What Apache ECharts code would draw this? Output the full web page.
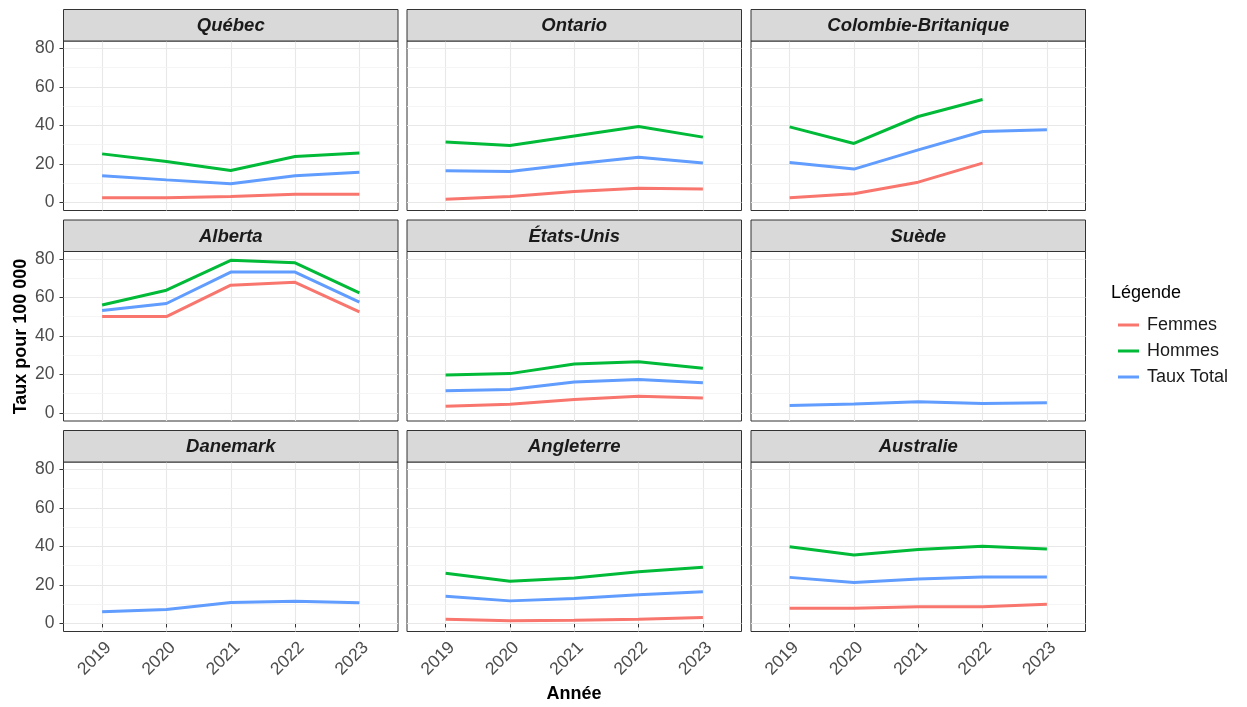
<!DOCTYPE html>
<html>
<head>
<meta charset="utf-8">
<script src="https://cdn.jsdelivr.net/npm/echarts@6/dist/echarts.min.js"></script>
<style>
html, body { margin: 0; padding: 0; background: #fff; }
#chart { width: 1247px; height: 707px; }
</style>
</head>
<body>
<div id="chart"></div>
<script>
var years = [2019, 2020, 2021, 2022, 2023];
var yTicks = [0, 20, 40, 60, 80];
var yMinorTicks = [10, 30, 50, 70];
var panels = ['Québec', 'Ontario', 'Colombie-Britanique', 'Alberta', 'États-Unis', 'Suède', 'Danemark', 'Angleterre', 'Australie'];
var seriesNames = ['Femmes', 'Hommes', 'Taux Total'];

// une ligne par panneau, null = pas de données
var femmes = [
	[2.4, 2.4, 3.1, 4.3, 4.3],
	[1.7, 3.1, 5.7, 7.3, 6.9],
	[2.4, 4.5, 10.5, 20.4, null],
	[50.0, 50.0, 66.3, 67.8, 52.5],
	[3.4, 4.5, 7.0, 8.6, 7.7],
	null,
	null,
	[2.2, 1.4, 1.7, 2.1, 3.1],
	[7.9, 7.9, 8.6, 8.6, 10.0]
];
var hommes = [
	[25.2, 21.2, 16.6, 23.8, 25.6],
	[31.3, 29.5, 34.5, 39.4, 33.9],
	[39.2, 30.6, 44.6, 53.4, null],
	[56.0, 63.7, 79.2, 77.9, 62.3],
	[19.7, 20.4, 25.4, 26.6, 23.2],
	null,
	null,
	[26.0, 21.9, 23.6, 26.8, 29.1],
	[39.8, 35.5, 38.4, 40.1, 38.6]
];
var total = [
	[13.8, 11.7, 9.7, 13.8, 15.7],
	[16.4, 16.1, 20.0, 23.5, 20.4],
	[20.7, 17.3, 27.3, 36.8, 37.7],
	[53.2, 56.8, 73.1, 73.1, 57.5],
	[11.5, 12.2, 16.0, 17.3, 15.6],
	[3.8, 4.6, 5.8, 4.9, 5.3],
	[6.0, 7.2, 10.8, 11.5, 10.7],
	[14.1, 11.7, 12.9, 14.9, 16.5],
	[23.9, 21.3, 23.1, 24.1, 24.1]
];

var colors = ['#F8766D', '#00BA38', '#619CFF'];
var font = "'Liberation Sans', Arial, sans-serif";

var colLeft = [63.5, 407, 751],
	rowTop = [9.5, 220, 430.5],
	panelW = 334.5,
	stripH = 31.5,
	plotH = 169.5;

var grids = [], xAxes = [], yAxes = [], series = [], graphics = [];

panels.forEach(function(name, p) {
	var row = Math.floor(p / 3),
		col = p % 3,
		left = colLeft[col],
		top = rowTop[row] + stripH,
		isBottom = row == 2,
		isLeft = col == 0;

	grids.push({
		left: left,
		top: top,
		width: panelW,
		height: plotH,
		show: true,
		backgroundColor: '#fff',
		borderColor: '#333',
		borderWidth: 1,
		z: 0
	});

	xAxes.push({
		type: 'value',
		gridIndex: p,
		min: 2018.4,
		max: 2023.6,
		axisLine: { show: false },
		axisTick: {
			show: isBottom,
			customValues: years,
			length: 4,
			lineStyle: { color: '#333' }
		},
		axisLabel: {
			show: isBottom,
			customValues: years,
			rotate: 45,
			align: 'right',
			verticalAlign: 'top',
			margin: 7,
			fontSize: 17.5,
			color: '#4D4D4D',
			fontFamily: font,
			formatter: function(v) { return String(v); }
		},
		splitLine: { show: true, lineStyle: { color: '#e8e8e8', width: 1.1 } }
	});

	// axe principal
	yAxes.push({
		type: 'value',
		gridIndex: p,
		min: -4.2,
		max: 83.8,
		position: 'left',
		axisLine: { show: false },
		axisTick: {
			show: isLeft,
			customValues: yTicks,
			length: 4,
			lineStyle: { color: '#333' }
		},
		axisLabel: {
			show: isLeft,
			customValues: yTicks,
			margin: 9,
			fontSize: 17.5,
			color: '#4D4D4D',
			fontFamily: font
		},
		splitLine: { show: true, lineStyle: { color: '#e8e8e8', width: 1.1 } },
		z: 2
	});
	// lignes mineures
	yAxes.push({
		type: 'value',
		gridIndex: p,
		min: -4.2,
		max: 83.8,
		position: 'left',
		axisLine: { show: false },
		axisTick: { show: false, customValues: yMinorTicks },
		axisLabel: { show: false, customValues: yMinorTicks },
		splitLine: { show: true, lineStyle: { color: '#f3f3f3', width: 0.8 } },
		z: 1
	});

	[femmes, hommes, total].forEach(function(src, s) {
		if(!src[p]) return;
		var data = [];
		years.forEach(function(y, i) {
			if(src[p][i] != null) data.push([y, src[p][i]]);
		});
		series.push({
			type: 'line',
			name: seriesNames[s],
			xAxisIndex: p,
			yAxisIndex: p * 2,
			data: data,
			symbol: 'none',
			showSymbol: false,
			color: colors[s],
			lineStyle: { width: 3, color: colors[s] },
			animation: false,
			silent: true,
			z: 5
		});
	});

	// bandeau du panneau
	graphics.push({
		type: 'rect',
		shape: { x: left, y: rowTop[row], width: panelW, height: stripH },
		style: { fill: '#D9D9D9', stroke: '#333', lineWidth: 1 },
		z: 10
	});
	graphics.push({
		type: 'text',
		x: left + panelW / 2,
		y: rowTop[row] + stripH / 2 + 1,
		style: {
			text: name,
			fill: '#1A1A1A',
			font: 'italic bold 18.5px ' + font,
			textAlign: 'center',
			textVerticalAlign: 'middle'
		},
		z: 11
	});
});

graphics.push({
	type: 'text',
	x: 21,
	y: 336.5,
	rotation: Math.PI / 2,
	style: {
		text: 'Taux pour 100 000',
		fill: '#000',
		font: 'bold 18px ' + font,
		textAlign: 'center',
		textVerticalAlign: 'middle'
	}
});
graphics.push({
	type: 'text',
	x: 574,
	y: 694,
	style: {
		text: 'Année',
		fill: '#000',
		font: 'bold 18px ' + font,
		textAlign: 'center',
		textVerticalAlign: 'middle'
	}
});
graphics.push({
	type: 'text',
	x: 1111,
	y: 293.5,
	style: {
		text: 'Légende',
		fill: '#000',
		font: '18px ' + font,
		textAlign: 'left',
		textVerticalAlign: 'middle'
	}
});

var chart = echarts.init(document.getElementById('chart'), null, { renderer: 'canvas' });
chart.setOption({
	animation: false,
	backgroundColor: '#fff',
	textStyle: { fontFamily: font },
	grid: grids,
	xAxis: xAxes,
	yAxis: yAxes,
	series: series,
	legend: {
		orient: 'vertical',
		left: 1113,
		top: 311,
		data: seriesNames,
		icon: 'rect',
		itemWidth: 21,
		itemHeight: 3,
		itemGap: 8,
		selectedMode: false,
		textStyle: {
			fontSize: 18,
			color: '#1A1A1A',
			fontFamily: font,
			padding: [0, 0, 0, 3]
		}
	},
	graphic: graphics
});
</script>
</body>
</html>
